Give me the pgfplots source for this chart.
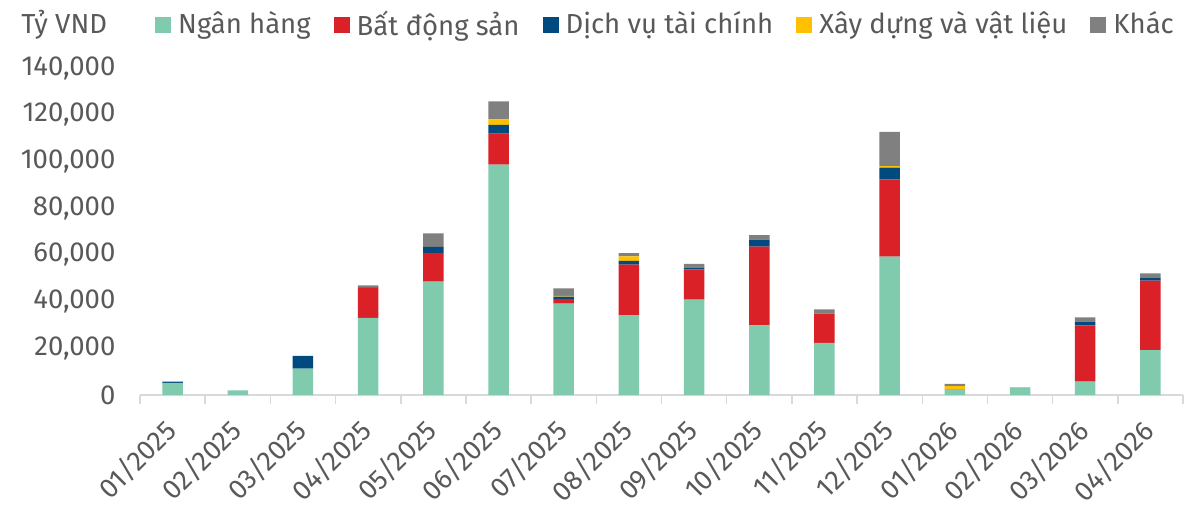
\documentclass[border=0pt]{standalone}
\usepackage{fontspec}
\setmainfont{Fira Sans}
\usepackage{pgfplots}
\usepackage{pgfplotstable}
\pgfplotsset{compat=1.18}
\definecolor{cg}{RGB}{128,203,174}
\definecolor{cr}{RGB}{218,33,40}
\definecolor{cb}{RGB}{0,74,127}
\definecolor{cy}{RGB}{255,192,0}
\definecolor{ck}{RGB}{128,128,128}
\definecolor{txt}{RGB}{89,89,89}
\definecolor{axl}{RGB}{217,217,217}
\pgfplotsset{sq/.style={legend image code/.code={\fill[##1] (0pt,-8pt) rectangle (16pt,8pt);}}}
\pgfplotstableread{
x g r b y k
0 5200 0 500 0 0
1 2000 0 0 0 0
2 11300 0 5500 0 0
3 33000 12800 300 0 800
4 48500 12400 2500 0 5800
5 98600 13300 3800 2300 7700
6 39100 2000 1000 300 3300
7 34200 21600 1600 2000 1300
8 40800 13000 700 0 1600
9 29800 33700 3000 0 1900
10 22300 12500 0 0 1900
11 59200 33100 5000 700 14600
12 2000 0 200 1600 1000
13 3000 200 0 0 0
14 5700 24100 1600 0 1800
15 19200 29800 1000 0 2100
}\data
\begin{document}
\fontsize{27.5}{32}\selectfont
\begin{tikzpicture}
\begin{axis}[
  scale only axis,
  width=1043pt, height=327pt,
  ybar stacked, bar width=20.5pt,
  xmin=-0.5, xmax=15.5, ymin=0, ymax=140000,
  axis x line*=bottom, axis y line*=left,
  y axis line style={draw=none},
  x axis line style={draw=axl, line width=1.5pt},
  xtick={0,...,15},
  xticklabels={01/2025,02/2025,03/2025,04/2025,05/2025,06/2025,07/2025,08/2025,09/2025,10/2025,11/2025,12/2025,01/2026,02/2026,03/2026,04/2026},
  major x tick style={draw=none},
  minor xtick={-0.5,0.5,...,15.5},
  minor x tick style={draw=axl, line width=1.5pt},
  minor tick length=9pt,
  tick align=outside,
  scaled y ticks=false,
  ytick={0,20000,40000,60000,80000,100000,120000,140000},
  yticklabels={0,{20,000},{40,000},{60,000},{80,000},{100,000},{120,000},{140,000}},
  ytick style={draw=none},
  ticklabel style={font=\fontsize{27.5}{32}\selectfont, text=txt},
  yticklabel style={xshift=-11pt},
  xticklabel style={xshift=5pt, yshift=-20pt, rotate=45, anchor=east},
  legend columns=5,
  legend style={at={(axis description cs:0.0144,1.1315)}, anchor=west, draw=none, fill=none, inner sep=0pt,
    font=\fontsize{27.5}{32}\selectfont, text=txt,
    /tikz/every odd column/.append style={column sep=4pt},
    /tikz/every even column/.append style={column sep=20pt},
    nodes={inner sep=3pt}},
  clip=false,
]
\addplot[fill=cg, draw=none, sq] table[x=x,y=g]{\data};
\addplot[fill=cr, draw=none, sq] table[x=x,y=r]{\data};
\addplot[fill=cb, draw=none, sq] table[x=x,y=b]{\data};
\addplot[fill=cy, draw=none, sq] table[x=x,y=y]{\data};
\addplot[fill=ck, draw=none, sq] table[x=x,y=k]{\data};
\legend{Ngân hàng, Bất động sản, Dịch vụ tài chính, Xây dựng và vật liệu, Khác}
\node[anchor=west, text=txt, inner sep=0pt] at (axis description cs:-0.114,1.1315) {Tỷ VND};
\coordinate (bl) at (rel axis cs:0,0);
\coordinate (tr) at (rel axis cs:1,1);
\end{axis}
\pgfresetboundingbox
\path[use as bounding box] ([xshift=-140pt,yshift=-113pt]bl) rectangle ([xshift=10pt,yshift=68pt]tr);
\end{tikzpicture}
\end{document}
